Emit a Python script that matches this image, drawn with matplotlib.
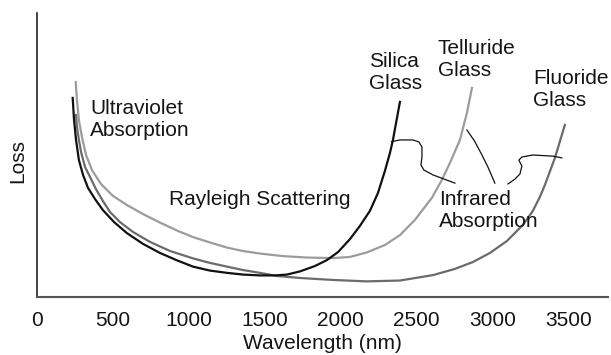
import matplotlib.pyplot as plt

plt.rcParams['font.family'] = ['Liberation Sans', 'DejaVu Sans']

# Silica glass (black)
silica_x = [235, 244, 257, 276, 303, 336, 382, 434, 507, 592, 698, 810, 922, 1027, 1139, 1251, 1356,
            1468, 1567, 1646, 1731, 1830, 1909, 1982, 2061, 2126, 2192, 2245, 2291, 2324, 2344, 2363, 2390]
silica_y = [70.1, 62.3, 55.3, 48.2, 43.0, 38.4, 34.5, 30.6, 26.4, 22.5, 18.7, 15.5, 12.9, 10.7, 9.3, 8.5, 7.9,
            7.6, 7.6, 7.9, 9.0, 10.9, 13.0, 15.8, 20.4, 25.0, 30.3, 36.6, 44.4, 50.7, 55.3, 60.9, 68.7]

# Telluride glass (light grey)
tell_x = [255, 263, 276, 296, 323, 362, 421, 500, 592, 698, 810, 922, 1027, 1139, 1251, 1356, 1468,
          1620, 1777, 1949, 2061, 2172, 2291, 2390, 2488, 2600, 2666, 2719, 2785, 2831, 2864]
tell_y = [75.7, 69.4, 62.3, 56.3, 50.0, 44.7, 39.8, 35.6, 32.4, 29.2, 26.2, 23.4, 21.1, 19.2, 17.4, 16.2, 15.3,
          14.4, 13.9, 13.7, 14.1, 15.7, 18.3, 21.8, 27.1, 34.9, 41.2, 47.2, 55.3, 64.8, 73.6]

# Fluoride glass (mid grey)
fluo_x = [257, 263, 276, 290, 316, 349, 388, 434, 481, 546, 632, 744, 876, 1027, 1139, 1251, 1356, 1468,
          1580, 1731, 1949, 2172, 2390, 2607, 2752, 2870, 2982, 3094, 3200, 3265, 3311, 3344, 3410, 3476]
fluo_y = [64.1, 59.9, 55.3, 51.1, 45.8, 42.3, 38.0, 33.8, 29.9, 26.4, 22.9, 19.4, 16.2, 13.6, 12.0, 10.7, 9.5, 8.5,
          7.4, 6.7, 6.0, 5.5, 5.8, 7.7, 9.9, 12.3, 15.5, 19.7, 25.4, 30.3, 35.2, 39.4, 48.9, 60.6]

# leader lines for "Infrared Absorption"
lead1_x = [2335, 2390, 2475, 2515, 2535, 2535, 2528, 2548, 2607, 2752]
lead1_y = [54.7, 55.3, 55.3, 54.6, 52.8, 49.3, 46.5, 44.7, 43.0, 40.1]
lead2_x = [2831, 2880, 2930, 2969, 3015]
lead2_y = [58.8, 55.0, 50.0, 45.8, 40.1]
lead3_x = [3101, 3147, 3180, 3193, 3173, 3193, 3265, 3397, 3456]
lead3_y = [39.8, 41.5, 43.3, 46.1, 48.2, 49.3, 50.0, 49.6, 49.0]

xticks = [0, 500, 1000, 1500, 2000, 2500, 3000, 3500]

fs = 15
txt = '#151515'
fig = plt.figure(figsize=(6.11, 3.55), dpi=100)
ax = fig.add_axes([37/611, 1-297/355, (608-37)/611, (297-13)/355])

ax.plot(tell_x, tell_y, color='#9c9c9c', lw=1.6, solid_joinstyle='round')
ax.plot(fluo_x, fluo_y, color='#6b6b6b', lw=1.6, solid_joinstyle='round')
ax.plot(silica_x, silica_y, color='#111111', lw=1.6, solid_joinstyle='round')

for lx, ly in [(lead1_x, lead1_y), (lead2_x, lead2_y), (lead3_x, lead3_y)]:
    ax.plot(lx, ly, color='#111111', lw=0.9)

ax.text(349, 69.7, 'Ultraviolet\nAbsorption', fontsize=fs, va='top', ha='left', color=txt)
ax.text(869, 37.7, 'Rayleigh Scattering', fontsize=fs, va='top', ha='left', color=txt)
ax.text(2186, 86.3, 'Silica\nGlass', fontsize=fs, va='top', ha='left', color=txt)
ax.text(2640, 90.8, 'Telluride\nGlass', fontsize=fs, va='top', ha='left', color=txt)
ax.text(3265, 80.3, 'Fluoride\nGlass', fontsize=fs, va='top', ha='left', color=txt)
ax.text(2647, 37.7, 'Infrared\nAbsorption', fontsize=fs, va='top', ha='left', color=txt)

ax.set_xlim(0, 3760)
ax.set_ylim(0, 100)
ax.set_xticks(xticks)
ax.set_yticks([])
ax.tick_params(axis='x', length=0, pad=10, labelsize=fs, labelcolor=txt)
ax.spines['top'].set_visible(False)
ax.spines['right'].set_visible(False)
ax.spines['left'].set_color('#111111')
ax.spines['left'].set_linewidth(1.1)
ax.spines['bottom'].set_color('#555555')
ax.spines['bottom'].set_linewidth(1.5)

ax.set_xlabel('Wavelength (nm)', fontsize=fs, color=txt, labelpad=3)
fig.text(18/611, 1-161/355, 'Loss', rotation=90, ha='center', va='center', fontsize=fs, color=txt)

fig.savefig('out.png', dpi=100)
